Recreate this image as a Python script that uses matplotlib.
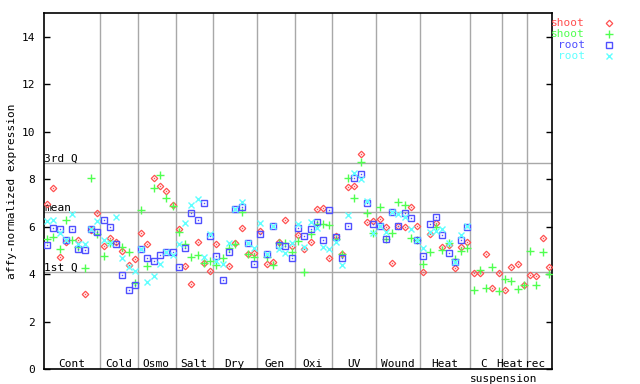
import numpy as np
import matplotlib
matplotlib.use('Agg')
import matplotlib.pyplot as plt

nan = np.nan

# groups along the x axis (one column per sample)
groups = ['Cont', 'Cold', 'Osmo', 'Salt', 'Dry', 'Gen', 'Oxi', 'UV', 'Wound', 'Heat', 'C', 'Heat', 'rec']
group_sizes = [9, 6, 6, 6, 7, 6, 6, 7, 7, 8, 5, 4, 4]

shoot_red = [6.96, 7.64, 4.73, 5.37, nan, 5.44, 3.16, 5.86, 6.58,   # Cont
             5.18, 5.51, 5.37, 4.99, 4.39, 4.63,                    # Cold
             5.72, 5.26, 8.05, 7.72, 7.50, 6.91,                    # Osmo
             5.89, 4.33, 3.57, 5.35, 4.46, 4.11,                    # Salt
             5.26, nan, 4.33, 5.30, 5.93, 4.84, 4.88,               # Dry
             5.83, 4.42, 4.50, 5.37, 6.29, 5.20,                    # Gen
             5.64, 5.05, 5.35, 6.75, 6.78, 4.67,                    # Oxi
             5.61, 4.85, 7.65, 7.72, 9.06, 6.19, 6.22,              # UV
             6.31, 5.98, 4.46, 6.03, 5.98, 6.82, 6.03,              # Wound
             4.08, 5.67, 6.17, 5.15, 5.22, 4.25, 5.15, 5.35,        # Heat
             4.04, 4.04, 4.84, 3.40, 4.04,                          # C suspension
             3.32, 4.29, 4.42, 3.53,                                # Heat
             3.95, 3.91, 5.51, 4.29]                                # rec

shoot_green = [5.46, 5.56, 5.06, 6.27, 5.44, 5.16, 4.26, 8.04, 5.67,
               4.76, 5.29, nan, 5.13, 4.94, 3.62,
               6.70, 4.33, 7.62, 8.17, 7.20, 6.88,
               5.77, 5.26, 4.71, 4.80, 4.46, 4.54,
               4.39, 4.67, 5.09, 5.26, 6.62, 4.84, 4.71,
               nan, 4.70, 4.37, 5.30, 5.33, 4.91,
               5.40, 4.08, 5.68, 6.12, 6.09, 6.06,
               5.47, 4.85, 8.04, 7.20, 8.71, 6.57, 5.75,
               6.82, 5.47, 5.72, 7.03, 6.91, 5.51, 5.44,
               4.43, 4.92, 5.98, 5.02, 5.30, 4.64, 4.97, 5.09,
               3.32, 4.18, 3.40, 4.29, 3.28,
               3.78, 3.70, 3.36, 3.53,
               4.96, 3.53, 4.92, 4.00]

root_blue = [5.22, 5.93, 5.89, 5.44, 5.89, 5.06, 5.02, 5.89, 5.78,
             6.27, 5.98, 5.26, 3.97, 3.32, 3.53,
             5.04, 4.67, 4.54, 4.80, 4.91, 4.91,
             4.29, 5.09, 6.57, 6.27, 6.99, 5.62,
             4.75, 3.74, 4.92, 6.75, 6.82, 5.30, 4.42,
             5.68, 4.84, 6.02, 5.22, 5.18, 4.67,
             5.93, 5.60, 5.89, 6.19, 5.43, 6.71,
             5.58, 4.67, 6.02, 8.04, 8.21, 6.99, 6.12,
             6.03, 5.47, 6.61, 6.03, 6.57, 6.36, 5.44,
             4.77, 6.10, 6.40, 5.64, 4.88, 4.50, 5.43, 5.98] + [nan] * 13

root_cyan = [6.23, 6.29, 5.72, 5.44, 6.54, 5.26, 5.26, 5.89, 6.23,
             5.43, 5.30, 6.40, 4.67, 4.29, 4.12,
             5.04, 3.66, 3.91, 4.42, 4.91, 4.82,
             5.27, 6.15, 6.92, 7.17, 4.74, 5.70,
             4.53, 4.42, 5.30, 6.75, 7.03, 5.30, 5.09,
             6.15, 4.84, 6.02, 5.05, 4.88, 5.30,
             6.10, 5.16, 6.19, 5.93, 5.16, 5.05,
             5.35, 4.38, 6.50, 8.25, 8.00, 7.06, 5.75,
             6.03, 5.77, 6.61, 6.54, 6.40, 5.89, 5.44,
             5.09, 5.77, 5.80, 5.89, 5.30, 4.50, 5.64, 6.01] + [nan] * 13

# reference lines
q1_val = 4.08
mean_val = 6.61
q3_val = 8.68

RED = '#ff5050'
GREEN = '#50ff50'
BLUE = '#5050ff'
CYAN = '#60ffff'
GRID = '#a8a8a8'

plt.rcParams['font.family'] = 'DejaVu Sans Mono'
plt.rcParams['font.size'] = 8

fig = plt.figure(figsize=(6.4, 3.84), dpi=100)
ax = fig.add_axes([44 / 640, 15 / 384, 508 / 640, 356 / 384])

n = sum(group_sizes)
x = np.arange(n) + 0.5
bounds = np.cumsum(group_sizes)

ax.set_xlim(0, n)
ax.set_ylim(0, 15)

# grid
for b in bounds[:-1]:
    ax.axvline(b, color=GRID, lw=1.0, zorder=1)
for v in (q1_val, mean_val, q3_val):
    ax.axhline(v, color=GRID, lw=1.0, zorder=1)
ax.text(0.05, q3_val + 0.07, '3rd Q', va='baseline', ha='left')
ax.text(0.05, mean_val + 0.05, 'mean', va='baseline', ha='left')
ax.text(0.05, q1_val + 0.07, '1st Q', va='baseline', ha='left')

# marker styles
red_m = dict(marker='D', ms=3.3, mfc='none', mec=RED, mew=0.9)
green_m = dict(marker='+', ms=5.5, mec=GREEN, mew=1.0)
blue_m = dict(marker='s', ms=4.3, mfc='none', mec=BLUE, mew=1.0)
cyan_m = dict(marker='x', ms=4, mec=CYAN, mew=1.0)

# points
ax.plot(x, shoot_red, ls='none', zorder=3, **red_m)
ax.plot(x, shoot_red, ls='none', marker='s', ms=1.0, mfc=RED, mew=0, zorder=3)
ax.plot(x, shoot_green, ls='none', zorder=3, **green_m)
ax.plot(x, root_blue, ls='none', zorder=3, **blue_m)
ax.plot(x, root_blue, ls='none', marker='s', ms=1.0, mfc=BLUE, mew=0, zorder=3)
ax.plot(x, root_cyan, ls='none', zorder=3, **cyan_m)

# group labels inside the plot
starts = np.concatenate([[0], bounds[:-1]])
centers = (starts + bounds) / 2
shift = {10: -0.35, 11: -0.7, 12: -0.7}
for i, g in enumerate(groups):
    ax.text(centers[i] + shift.get(i, -0.15), 0.09, g, ha='center', va='baseline')
ax.text(bounds[10] + 0.3, -0.55, 'suspension', ha='center', va='baseline', clip_on=False)

ax.set_yticks(range(0, 15, 2))
ax.set_xticks([])
ax.tick_params(axis='y', direction='in', length=4.3, width=1, pad=6.5, right=True)
ax.set_ylabel('affy-normalized expression', labelpad=3.5)
for s in ax.spines.values():
    s.set_linewidth(1.2)

# legend to the right
leg = [('shoot', RED, red_m), ('shoot', GREEN, green_m), ('root', BLUE, blue_m), ('root', CYAN, cyan_m)]
for k, (name, col, m) in enumerate(leg):
    yy = 1 - (23 + 11 * k) / 384
    fig.text(585 / 640, yy, name, color=col, ha='right', va='center')
    ax.plot([609 / 640], [yy], transform=fig.transFigure, clip_on=False, **m)

fig.savefig('out.png', dpi=100)
